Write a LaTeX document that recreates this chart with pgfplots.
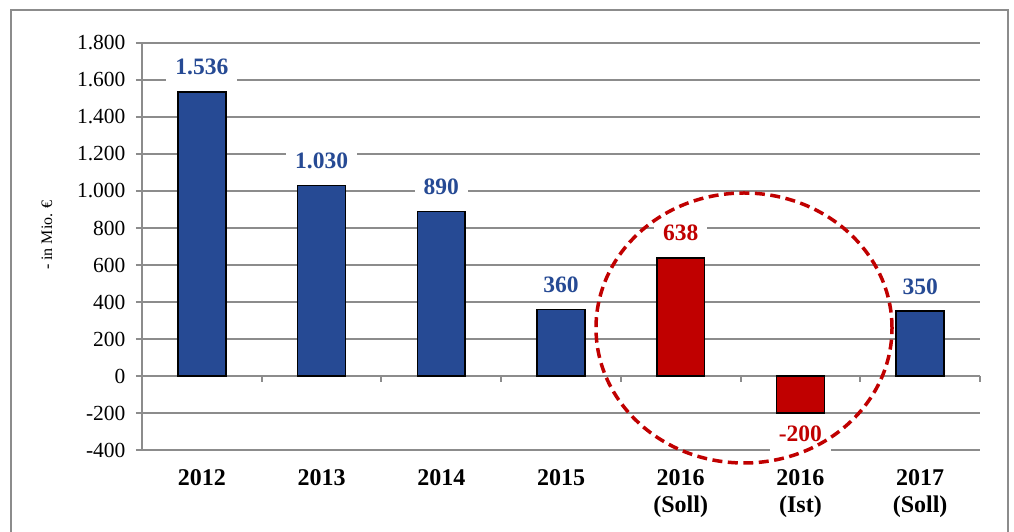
\documentclass[border=0pt]{standalone}
\usepackage{pgfplots}
\pgfplotsset{compat=1.18}
\usepackage{fontspec}
\setmainfont{Liberation Serif}
\definecolor{barblue}{RGB}{38,74,148}
\definecolor{barred}{RGB}{192,0,0}
\definecolor{gridgray}{RGB}{140,140,140}

\begin{document}
\begin{tikzpicture}
\useasboundingbox (0pt,0pt) rectangle (1014pt,532pt);
% outer frame (bottom edge lies below the page)
\draw[gridgray, line width=2pt] (11pt,-20pt) -- (11pt,522pt) -- (1008pt,522pt) -- (1008pt,-20pt);
\begin{axis}[
  at={(142pt,82pt)}, anchor=south west,
  scale only axis, width=838pt, height=407pt,
  xmin=-0.5, xmax=6.5, ymin=-400, ymax=1800,
  axis x line*=middle, axis y line*=left,
  axis line style={gridgray, line width=2pt},
  hide obscured x ticks=false, hide obscured y ticks=false,
  xtick={-0.5,0.5,...,6.5}, xticklabels={},
  ytick={-400,-200,...,1800},
  tick align=outside, major tick length=6pt,
  tick style={gridgray, line width=2pt},
  ymajorgrids, grid style={gridgray, line width=2pt},
  /pgf/number format/.cd, 1000 sep={.}, assume math mode=true, /pgfplots/.cd,
  yticklabel style={font=\fontsize{21.5}{25}\selectfont, text=black, xshift=-7pt},
  ybar, bar width=0.4, bar shift=0pt,
  clip=false,
]
\addplot[fill=barblue, draw=black, line width=1.5pt, nodes near coords,
  every node near coord/.style={font=\bfseries\fontsize{23.5}{27}\selectfont,
    text=barblue, fill=white, draw=none, inner xsep=9pt, inner ysep=7pt,
    anchor=south, yshift=9pt}]
  coordinates {(0,1536) (1,1030) (2,890) (3,360) (6,350)};
\addplot[fill=barred, draw=black, line width=1.5pt, nodes near coords,
  every node near coord/.style={font=\bfseries\fontsize{23.5}{27}\selectfont,
    text=barred, fill=white, draw=none, inner xsep=9pt, inner ysep=7pt,
    anchor=south, yshift=9pt}]
  coordinates {(4,638)};
\addplot[fill=barred, draw=black, line width=1.5pt, nodes near coords,
  every node near coord/.style={font=\bfseries\fontsize{23.5}{27}\selectfont,
    text=barred, fill=white, draw=none, inner xsep=9pt, inner ysep=11pt,
    anchor=north, yshift=-1pt}]
  coordinates {(5,-200)};
% category labels
\begin{scope}[every node/.style={anchor=base, font=\bfseries\fontsize{24}{27}\selectfont}]
\node at ([yshift=-36pt]axis cs:0,-400) {2012};
\node at ([yshift=-36pt]axis cs:1,-400) {2013};
\node at ([yshift=-36pt]axis cs:2,-400) {2014};
\node at ([yshift=-36pt]axis cs:3,-400) {2015};
\node at ([yshift=-36pt]axis cs:4,-400) {2016};
\node at ([yshift=-63pt]axis cs:4,-400) {(Soll)};
\node at ([yshift=-36pt]axis cs:5,-400) {2016};
\node at ([yshift=-63pt]axis cs:5,-400) {(Ist)};
\node at ([yshift=-36pt]axis cs:6,-400) {2017};
\node at ([yshift=-63pt]axis cs:6,-400) {(Soll)};
\end{scope}
\end{axis}
\node[rotate=90, font=\fontsize{16}{19}\selectfont] at (47pt,297pt) {- in Mio. €};
\draw[barred, line width=3.5pt, dash pattern=on 10pt off 5.5pt]
  (744pt,204pt) ellipse [x radius=148pt, y radius=135pt];
\end{tikzpicture}
\end{document}
